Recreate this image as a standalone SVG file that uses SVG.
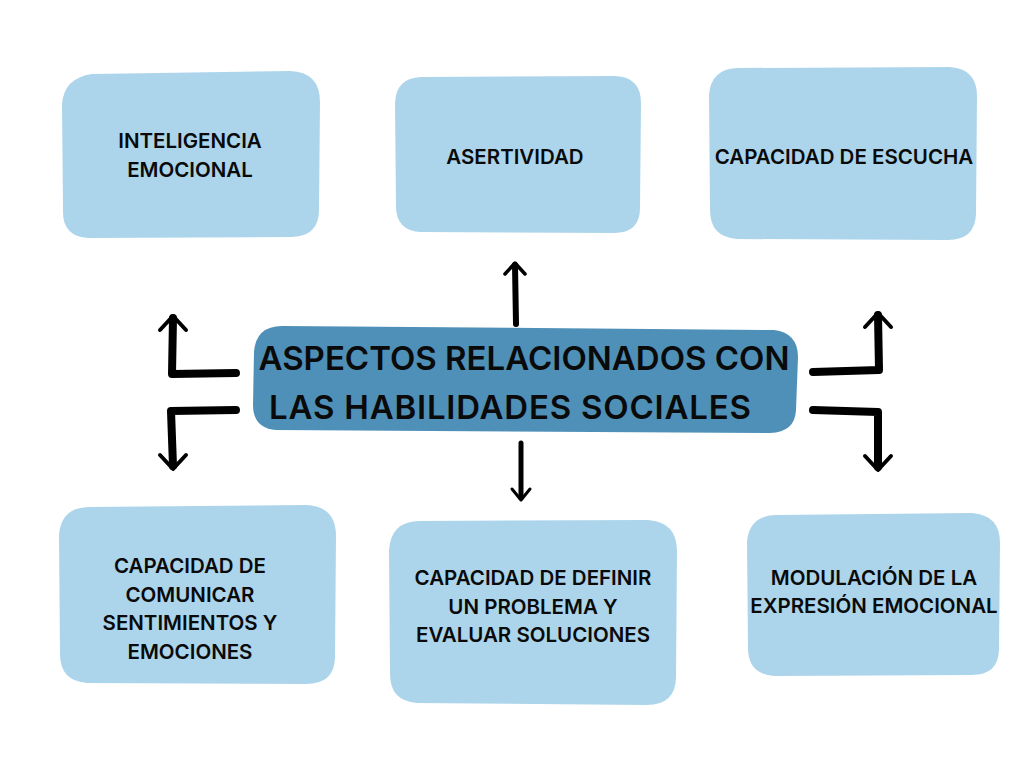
<svg xmlns="http://www.w3.org/2000/svg" width="1024" height="768" viewBox="0 0 1024 768">
<style>
.box{fill:#acd5eb}
.center{fill:#4f90b8}
.t{font-family:Inter,"Liberation Sans",sans-serif;font-weight:600;font-size:20.5px;fill:#0a0a0a;text-anchor:middle}
.tc{font-family:Inter,"Liberation Sans",sans-serif;font-weight:600;font-size:33px;fill:#0a0a0a;text-anchor:middle}
.ln{fill:none;stroke:#000;stroke-width:8;stroke-linecap:round;stroke-linejoin:round}
.hd{fill:none;stroke:#000;stroke-width:4;stroke-linecap:round;stroke-linejoin:round}
</style>
<rect width="1024" height="768" fill="#fff"/>
<g id="n1"><path class="box" d="M92,74 L290,71 Q320,72 320,102 L319,210 Q319,236 292,237 L88,238 Q62,236 63,210 L62,104 Q64,78 92,74 Z"/>
<text class="t" x="190" y="148">INTELIGENCIA</text><text class="t" x="190" y="177">EMOCIONAL</text></g>
<g id="n2"><path class="box" d="M421,77 L615,76 Q641,77 641,103 L640,208 Q640,233 614,233 L421,232 Q396,231 396,206 L395,103 Q396,78 421,77 Z"/>
<text class="t" x="515" y="164">ASERTIVIDAD</text></g>
<g id="n3"><path class="box" d="M737,68 L950,67 Q977,69 977,96 L976,214 Q975,240 948,240 L737,239 Q710,237 710,210 L709,95 Q711,69 737,68 Z"/>
<text class="t" x="844" y="164">CAPACIDAD DE ESCUCHA</text></g>
<g id="center"><path class="center" d="M282,326 L774,330 Q798,333 798,357 L796,410 Q795,432 770,433 L276,430 Q253,428 253,405 L254,352 Q256,326 282,326 Z"/>
<text class="tc" x="524" y="370">ASPECTOS RELACIONADOS CON</text><text class="tc" x="510" y="419" textLength="482" lengthAdjust="spacing">LAS HABILIDADES SOCIALES</text></g>
<g id="n4"><path class="box" d="M88,507 L306,505 Q336,506 336,536 L335,658 Q334,684 306,684 L87,683 Q60,681 60,654 L59,535 Q61,508 88,507 Z"/>
<text class="t" x="190" y="573">CAPACIDAD DE</text><text class="t" x="190" y="602">COMUNICAR</text><text class="t" x="190" y="630">SENTIMIENTOS Y</text><text class="t" x="190" y="659">EMOCIONES</text></g>
<g id="n5"><path class="box" d="M418,521 L648,520 Q677,522 677,551 L676,678 Q675,705 647,705 L417,703 Q390,701 390,674 L389,550 Q391,522 418,521 Z"/>
<text class="t" x="533" y="585">CAPACIDAD DE DEFINIR</text><text class="t" x="533" y="614">UN PROBLEMA Y</text><text class="t" x="533" y="642">EVALUAR SOLUCIONES</text></g>
<g id="n6"><path class="box" d="M775,515 L972,513 Q1000,515 1000,543 L999,650 Q998,675 972,675 L774,676 Q748,674 748,648 L747,542 Q749,516 775,515 Z"/>
<text class="t" x="874" y="585">MODULACIÓN DE LA</text><text class="t" x="874" y="613">EXPRESIÓN EMOCIONAL</text></g>
<g id="connectors">
<path class="ln" d="M236,373 L172,374 L173,318"/><path class="hd" d="M160,330 L173,316 L186,330"/>
<path class="ln" d="M236,410 L171,411 L173,466"/><path class="hd" d="M160,455 L173,469 L186,455"/>
<path class="ln" d="M813,372 L879,370 L878,315"/><path class="hd" d="M865,327 L878,313 L891,327"/>
<path class="ln" d="M813,410 L878,412 L878,467"/><path class="hd" d="M865,456 L878,470 L891,456"/>
<path class="ln" d="M516,324 L515,265" style="stroke-width:6"/><path class="hd" d="M505,274 L515,263 L525,274" style="stroke-width:3.5"/>
<path class="ln" d="M521,443 L521,498" style="stroke-width:5"/><path class="hd" d="M512,489 L521,500 L530,489" style="stroke-width:3"/>
</g>
</svg>
